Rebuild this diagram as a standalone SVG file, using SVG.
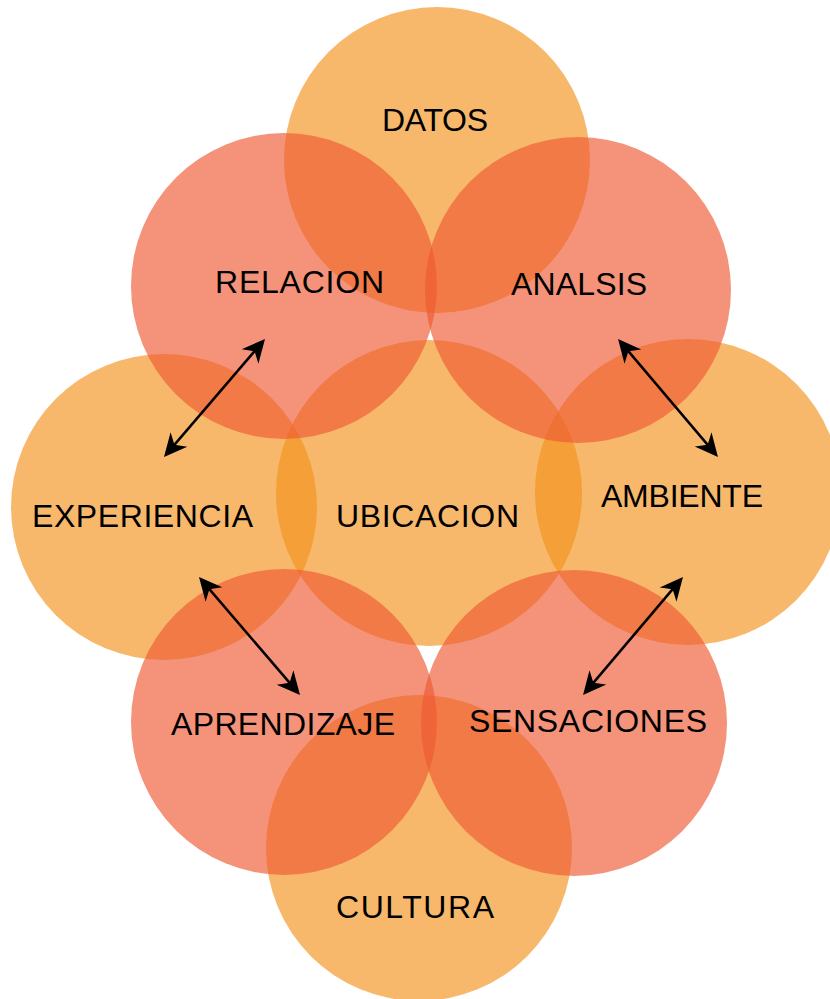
<svg xmlns="http://www.w3.org/2000/svg" width="830" height="999" viewBox="0 0 830 999">
<style>
.o{fill:#F3921B;fill-opacity:0.65}
.r{fill:#EE5932;fill-opacity:0.65}
text{font-family:"Liberation Sans",Arial,sans-serif;font-size:32px;fill:#000;text-anchor:middle}
.c{stroke:#000;stroke-width:2.5;fill:none;marker-start:url(#ah);marker-end:url(#ah)}
</style>
<defs>
<marker id="ah" markerUnits="userSpaceOnUse" viewBox="-14 -13 26 26" markerWidth="26" markerHeight="26" refX="0" refY="0" orient="auto-start-reverse">
<path d="M10,0 L-13,-11 L-6,0 L-13,11 Z" fill="#000"/>
</marker>
</defs>
<rect width="830" height="999" fill="#fff"/>
<g id="datos"><circle class="o" cx="437" cy="160" r="153"/></g>
<g id="experiencia"><circle class="o" cx="164" cy="507" r="153"/></g>
<g id="ubicacion"><circle class="o" cx="429" cy="493" r="153"/></g>
<g id="ambiente"><circle class="o" cx="688" cy="492" r="153"/></g>
<g id="cultura"><circle class="o" cx="419" cy="848" r="153"/></g>
<g id="relacion"><circle class="r" cx="284" cy="286" r="153"/></g>
<g id="analsis"><circle class="r" cx="578" cy="290" r="153"/></g>
<g id="aprendizaje"><circle class="r" cx="284" cy="722" r="153"/></g>
<g id="sensaciones"><circle class="r" cx="574" cy="723" r="153"/></g>
<g id="labels">
<text x="435" y="131" textLength="106" lengthAdjust="spacing">DATOS</text>
<text x="299.5" y="293" textLength="169" lengthAdjust="spacing">RELACION</text>
<text x="579" y="295" textLength="136" lengthAdjust="spacing">ANALSIS</text>
<text x="142.5" y="527" textLength="221" lengthAdjust="spacing">EXPERIENCIA</text>
<text x="427.5" y="527" textLength="183" lengthAdjust="spacing">UBICACION</text>
<text x="682" y="507" textLength="162" lengthAdjust="spacing">AMBIENTE</text>
<text x="283" y="735" textLength="224" lengthAdjust="spacing">APRENDIZAJE</text>
<text x="588" y="732" textLength="238" lengthAdjust="spacing">SENSACIONES</text>
<text x="415" y="918" textLength="158" lengthAdjust="spacing">CULTURA</text>
</g>
<g id="connectors">
<line class="c" x1="170.5" y1="449.4" x2="258.5" y2="346.6"/>
<line class="c" x1="624.5" y1="346.6" x2="711.5" y2="449.4"/>
<line class="c" x1="205.5" y1="584.6" x2="293.5" y2="687.4"/>
<line class="c" x1="676.5" y1="584.6" x2="589.5" y2="687.4"/>
</g>
</svg>
